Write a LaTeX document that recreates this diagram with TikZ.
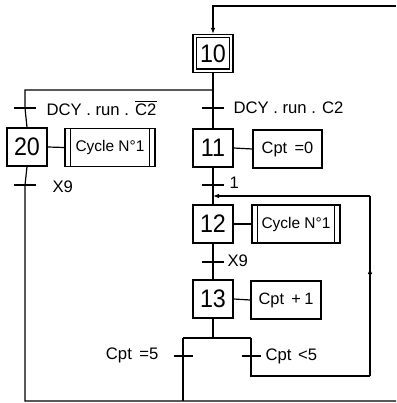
\documentclass[tikz,border=0pt]{standalone}
\usepackage{fontspec}
\setmainfont{Liberation Sans}
\usetikzlibrary{arrows.meta,decorations.markings}
\newcommand{\stepnum}[1]{\scalebox{0.92}[1]{#1}}
\begin{document}
\begin{tikzpicture}[x=0.75pt,y=-0.75pt,line width=0.9pt,
  stepbox/.style={draw, minimum width=30pt, minimum height=28.5pt, inner sep=0pt, font=\fontsize{19}{21}\selectfont},
  actbox/.style={draw, minimum height=28.5pt, inner sep=2pt, font=\fontsize{12.3}{14}\selectfont},
  lbl/.style={inner sep=0pt, font=\fontsize{12.5}{14}\selectfont},
  tip/.style={-{Latex[length=4.5pt,width=3.5pt]}},
  midarrow/.style={postaction={decorate}, decoration={markings, mark=at position 0.6 with {\arrow{Latex[length=4.5pt,width=3.5pt]}}}}
]
\useasboundingbox (0,0) rectangle (396,403);

% steps
\node[stepbox] (s10) at (213,53.5) {\stepnum{10}};
\draw ([shift={(3pt,3pt)}]s10.south west) rectangle ([shift={(-3pt,-3pt)}]s10.north east);
\node[stepbox] (s20) at (27,147) {\stepnum{20}};
\node[stepbox] (s11) at (213,148) {\stepnum{11}};
\node[stepbox] (s12) at (213,224) {\stepnum{12}};
\node[stepbox] (s13) at (213,299) {\stepnum{13}};

% actions
\node[actbox, minimum width=67.5pt, font=\fontsize{11.6}{14}\selectfont] (a20) at (110,147.5) {Cycle N°1};
\draw ([xshift=4.5pt]a20.north west) -- ([xshift=4.5pt]a20.south west);
\draw ([xshift=-4.5pt]a20.north east) -- ([xshift=-4.5pt]a20.south east);
\node[actbox, minimum width=51.75pt] (a11) at (287.5,149) {Cpt\hspace{0.45em}=0};
\node[actbox, minimum width=66pt, font=\fontsize{11.6}{14}\selectfont] (a12) at (296,224) {Cycle N°1};
\draw ([xshift=4.5pt]a12.north west) -- ([xshift=4.5pt]a12.south west);
\draw ([xshift=-4.5pt]a12.north east) -- ([xshift=-4.5pt]a12.south east);
\node[actbox, minimum width=52.5pt] (a13) at (286,300) {Cpt\hspace{0.45em}+\hspace{0.2em}1};

\draw (s20.east) -- (a20.west);
\draw (s11.east) -- (a11.west);
\draw (s12.east) -- (a12.west);
\draw (s13.east) -- (a13.west);

% transitions
\coordinate (t1) at (25,108);
\coordinate (t2) at (213,108);
\coordinate (t3) at (25,185);
\coordinate (t4) at (213,185);
\coordinate (t5) at (213,262);
\coordinate (t6) at (183,356);
\coordinate (t7) at (251,356);
\foreach \t in {t1,t2,t3,t4,t5}{\draw (\t) ++(-11,0) -- ++(22,0);}
\foreach \t in {t6,t7}{\draw (\t) ++(-9.5,0) -- ++(19,0);}

% junction coordinates
\coordinate (topR) at (396,6);
\coordinate (topM) at (213,6);
\coordinate (d0) at (213,90);
\coordinate (dL) at (25,90);
\coordinate (j12) at (213,196);
\coordinate (j13) at (213,338);
\coordinate (jL) at (183,338);
\coordinate (jR) at (251,338);
\coordinate (lpB) at (251,376);
\coordinate (lpC) at (370,376);
\coordinate (lpD) at (370,196);
\coordinate (botL) at (25,401);
\coordinate (botM) at (183,401);
\coordinate (botR) at (396,401);

% links
\draw[tip] (topR) -- (topM) -- (s10.north);
\draw (s10.south) -- (d0) -- (t2) -- (s11.north);
\draw (d0) -- (dL) -- (t1) -- (s20.north);
\draw (s20.south) -- (t3) -- (botL) -- (botR);
\draw (s11.south) -- (t4) -- (j12) -- (s12.north);
\draw (s12.south) -- (t5) -- (s13.north);
\draw (s13.south) -- (j13);
\draw (jL) -- (jR);
\draw (jL) -- (t6) -- (botM);
\draw (jR) -- (t7) -- (lpB) -- (lpC);
\draw[midarrow] (lpC) -- (lpD);
\draw[tip] (lpD) -- (j12);

% labels
\node[lbl, anchor=west] (l1) at (46,108) {DCY . run . $\overline{\mbox{C2}}$};
\node[lbl, anchor=west] (l2) at (233,108) {DCY . run . C2};
\node[lbl, anchor=west] (l3) at (52,187) {X9};
\node[lbl, anchor=west] (l4) at (229,183) {1};
\node[lbl, anchor=west] (l5) at (227,261) {X9};
\node[lbl, anchor=east] (l6) at (159,355) {Cpt\hspace{0.45em}=5};
\node[lbl, anchor=west] (l7) at (265,356) {Cpt\hspace{0.4em}<5};
\end{tikzpicture}
\end{document}
